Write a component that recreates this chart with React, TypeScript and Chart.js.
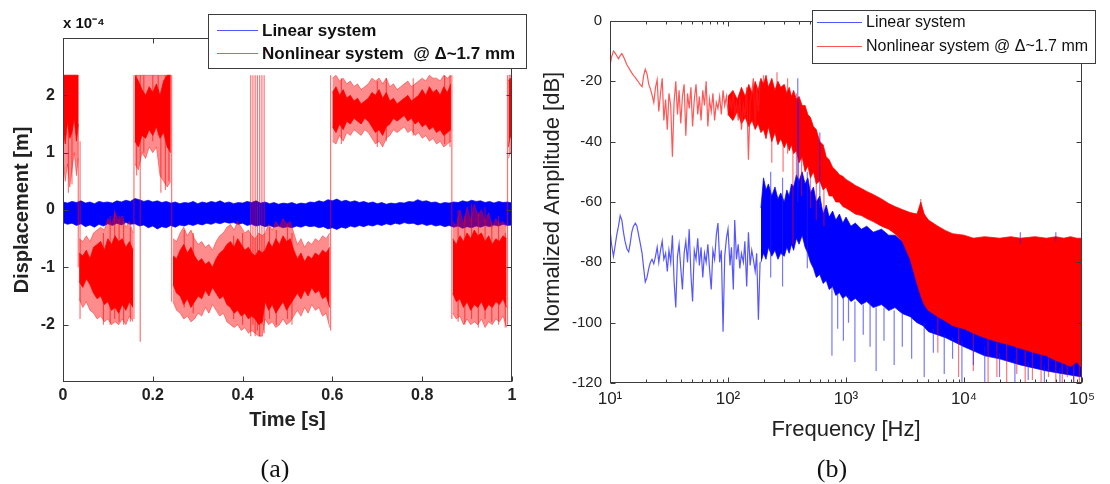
import React, { useEffect, useRef } from 'react';
import { Chart, registerables } from 'chart.js';

Chart.register(...registerables);

const SANS = '"Liberation Sans", Arial, Helvetica, sans-serif';
const SERIF = '"Liberation Serif", "Times New Roman", serif';

// ---------------- Panel (a): displacement vs time ----------------
const timeTicks = [0, 0.2, 0.4, 0.6, 0.8, 1];
const timeTickLabels = ['0', '0.2', '0.4', '0.6', '0.8', '1'];
const dispTicks = [-2, -1, 0, 1, 2];
const dispTickLabels = ['-2', '-1', '0', '1', '2'];

// linear system: dense band (upper / lower envelope), units 1e-4 m
const linearTime = [
  0, 0.01, 0.02, 0.03, 0.04, 0.05, 0.06, 0.07, 0.08, 0.09,
  0.1, 0.11, 0.12, 0.13, 0.14, 0.15, 0.16, 0.17, 0.18, 0.19,
  0.2, 0.21, 0.22, 0.23, 0.24, 0.25, 0.26, 0.27, 0.28, 0.29,
  0.3, 0.31, 0.32, 0.33, 0.34, 0.35, 0.36, 0.37, 0.38, 0.39,
  0.4, 0.41, 0.42, 0.43, 0.44, 0.45, 0.46, 0.47, 0.48, 0.49,
  0.5, 0.51, 0.52, 0.53, 0.54, 0.55, 0.56, 0.57, 0.58, 0.59,
  0.6, 0.61, 0.62, 0.63, 0.64, 0.65, 0.66, 0.67, 0.68, 0.69,
  0.7, 0.71, 0.72, 0.73, 0.74, 0.75, 0.76, 0.77, 0.78, 0.79,
  0.8, 0.81, 0.82, 0.83, 0.84, 0.85, 0.86, 0.87, 0.88, 0.89,
  0.9, 0.91, 0.92, 0.93, 0.94, 0.95, 0.96, 0.97, 0.98, 0.99,
  1,
];
const linearHi = [
  0.14, 0.12, 0.15, 0.13, 0.16, 0.12, 0.14, 0.11, 0.15, 0.13,
  0.14, 0.12, 0.16, 0.14, 0.17, 0.15, 0.2, 0.18, 0.15, 0.17,
  0.14, 0.16, 0.13, 0.15, 0.12, 0.14, 0.11, 0.13, 0.12, 0.15,
  0.11, 0.14, 0.12, 0.15, 0.13, 0.16, 0.12, 0.14, 0.11, 0.13,
  0.12, 0.15, 0.13, 0.16, 0.12, 0.14, 0.11, 0.13, 0.1, 0.12,
  0.11, 0.13, 0.1, 0.12, 0.11, 0.14, 0.13, 0.16, 0.14, 0.18,
  0.16, 0.19, 0.15, 0.17, 0.14, 0.16, 0.13, 0.15, 0.12, 0.14,
  0.11, 0.13, 0.1, 0.12, 0.11, 0.13, 0.12, 0.15, 0.14, 0.18,
  0.15, 0.16, 0.13, 0.14, 0.11, 0.13, 0.12, 0.14, 0.13, 0.16,
  0.14, 0.17, 0.15, 0.16, 0.13, 0.15, 0.12, 0.15, 0.13, 0.14,
  0.12,
];
const linearLo = [
  -0.22, -0.25, -0.23, -0.27, -0.24, -0.29, -0.26, -0.3, -0.25, -0.28,
  -0.24, -0.27, -0.23, -0.26, -0.22, -0.25, -0.24, -0.28, -0.26, -0.31,
  -0.28, -0.33, -0.29, -0.31, -0.27, -0.3, -0.26, -0.28, -0.25, -0.27,
  -0.24, -0.26, -0.23, -0.25, -0.22, -0.24, -0.21, -0.23, -0.22, -0.25,
  -0.23, -0.27, -0.25, -0.28, -0.26, -0.29, -0.27, -0.3, -0.28, -0.31,
  -0.29, -0.31, -0.28, -0.3, -0.27, -0.29, -0.28, -0.31, -0.29, -0.33,
  -0.31, -0.34, -0.3, -0.32, -0.28, -0.3, -0.27, -0.29, -0.26, -0.28,
  -0.25, -0.27, -0.24, -0.26, -0.23, -0.25, -0.22, -0.24, -0.23, -0.26,
  -0.24, -0.27, -0.25, -0.28, -0.26, -0.29, -0.27, -0.3, -0.28, -0.32,
  -0.29, -0.31, -0.28, -0.3, -0.27, -0.29, -0.26, -0.28, -0.25, -0.27,
  -0.26,
];

// nonlinear system: dense core band and lighter outer band (null separates segments)
const nonlinTime = [
  0, 0.005, 0.01, 0.015, 0.02, 0.025, 0.03, 0.034, null,
  0.036, 0.044, 0.052, 0.06, 0.068, 0.076, 0.084, 0.092, 0.1, 0.108, 0.116, 0.124, 0.132, 0.14, 0.148, 0.156, null,
  0.16, 0.168, 0.176, 0.184, 0.192, 0.2, 0.208, 0.216, 0.224, 0.232, 0.24, null,
  0.245, 0.253, 0.261, 0.269, 0.277, 0.285, 0.293, 0.301, 0.309, 0.317, 0.325, 0.333, 0.341, 0.349, 0.357,
  0.365, 0.373, 0.381, 0.389, 0.397, 0.405, 0.413, 0.42, 0.428, 0.436, 0.444, 0.45, 0.458, 0.466, 0.474,
  0.482, 0.49, 0.498, 0.506, 0.514, 0.522, 0.53, 0.538, 0.546, 0.554, 0.562, 0.57, 0.578, 0.586, 0.594, null,
  0.6, 0.608, 0.616, 0.624, 0.632, 0.64, 0.648, 0.656, 0.664, 0.672, 0.68, 0.688, 0.696, 0.704, 0.712, 0.72, 0.728,
  0.736, 0.744, 0.752, 0.76, 0.768, 0.776, 0.784, 0.792, 0.8, 0.808, 0.816, 0.824, 0.832, 0.84, 0.848, 0.856, 0.864, null,
  0.868, 0.876, 0.884, 0.892, 0.9, 0.908, 0.916, 0.924, 0.932, 0.94, 0.948, 0.956, 0.964, 0.972, 0.98, 0.988, null,
  0.992, 0.996, 1,
];
const nonlinHi = [
  2.35, 2.35, 2.35, 2.35, 2.35, 2.35, 2.35, 2.35, null,
  -0.75, -0.8, -0.7, -0.85, -0.65, -0.6, -0.55, -0.7, -0.5, -0.6, -0.45, -0.55, -0.5, -0.65, -0.55, -0.7, null,
  2.35, 2.25, 2.1, 2.0, 2.15, 2.05, 2.2, 2.0, 2.25, 2.35, 2.35, null,
  -0.8, -0.85, -0.7, -0.6, -0.75, -0.65, -0.8, -0.9, -0.85, -0.95, -0.9, -1.0, -0.85, -0.75, -0.7,
  -0.6, -0.55, -0.65, -0.5, -0.6, -0.7, -0.65, -0.75, -0.8, -0.7, -0.75, -0.7, -0.55, -0.65, -0.5,
  -0.6, -0.45, -0.55, -0.5, -0.7, -0.85, -0.75, -0.9, -0.8, -0.85, -0.75, -0.8, -0.7, -0.75, -0.65, null,
  2.05, 2.15, 2.0, 2.1, 1.95, 2.0, 1.9, 1.95, 1.85, 1.9, 1.95, 2.05, 2.0, 2.1, 1.95, 2.05, 1.9,
  1.95, 1.85, 1.9, 1.95, 2.0, 1.9, 1.95, 2.0, 2.1, 2.0, 2.15, 2.05, 2.1, 2.0, 2.15, 2.05, 2.2, null,
  -0.5, -0.6, -0.45, -0.55, -0.4, -0.5, -0.35, -0.45, -0.4, -0.55, -0.45, -0.6, -0.5, -0.55, -0.45, -0.5, null,
  2.25, 2.3, 2.2,
];
const nonlinLo = [
  1.45, 1.15, 1.55, 1.25, 1.35, 1.6, 1.2, 1.5, null,
  -1.25, -1.35, -1.2, -1.3, -1.45, -1.55, -1.5, -1.65, -1.6, -1.75, -1.7, -1.8, -1.65, -1.75, -1.6, -1.7, null,
  1.2, 1.1, 1.3, 1.25, 1.4, 1.3, 1.45, 1.25, 1.35, 1.1, 1.0, null,
  -1.3, -1.45, -1.5, -1.65, -1.55, -1.7, -1.6, -1.5, -1.55, -1.4, -1.5, -1.35, -1.45, -1.55, -1.5,
  -1.65, -1.7, -1.8, -1.75, -1.85, -1.8, -1.9, -1.85, -1.9, -2.0, -1.95, -1.6, -1.75, -1.65, -1.8,
  -1.7, -1.6, -1.75, -1.65, -1.55, -1.45, -1.55, -1.4, -1.5, -1.35, -1.45, -1.4, -1.55, -1.5, -1.7, null,
  1.45, 1.35, 1.5, 1.4, 1.55, 1.5, 1.6, 1.55, 1.5, 1.6, 1.55, 1.45, 1.35, 1.4, 1.3, 1.45, 1.5,
  1.6, 1.55, 1.6, 1.65, 1.55, 1.6, 1.5, 1.55, 1.45, 1.5, 1.4, 1.45, 1.35, 1.4, 1.3, 1.35, 1.4, null,
  -1.45, -1.6, -1.55, -1.7, -1.6, -1.75, -1.65, -1.7, -1.6, -1.75, -1.65, -1.7, -1.6, -1.65, -1.55, -1.7, null,
  1.1, 1.3, 1.2,
];
const nonlinOuterHi = [
  2.35, 2.35, 2.35, 2.35, 2.35, 2.35, 2.35, 2.35, null,
  -0.5, -0.55, -0.45, -0.55, -0.4, -0.35, -0.3, -0.35, -0.15, -0.25, -0.05, -0.2, -0.1, -0.3, -0.2, -0.4, null,
  2.35, 2.35, 2.35, 2.35, 2.35, 2.35, 2.35, 2.35, 2.35, 2.35, 2.35, null,
  -0.5, -0.55, -0.4, -0.3, -0.45, -0.35, -0.5, -0.6, -0.55, -0.65, -0.6, -0.7, -0.55, -0.45, -0.4,
  -0.3, -0.25, -0.35, -0.2, -0.3, -0.4, -0.35, -0.45, -0.5, -0.4, -0.45, -0.4, -0.25, -0.35, -0.2,
  -0.3, -0.15, -0.25, -0.2, -0.4, -0.6, -0.5, -0.65, -0.55, -0.6, -0.5, -0.55, -0.45, -0.5, -0.4, null,
  2.3, 2.35, 2.25, 2.3, 2.2, 2.25, 2.15, 2.2, 2.1, 2.15, 2.2, 2.3, 2.25, 2.3, 2.2, 2.3, 2.15,
  2.2, 2.1, 2.15, 2.2, 2.25, 2.15, 2.2, 2.25, 2.3, 2.25, 2.35, 2.3, 2.3, 2.25, 2.35, 2.3, 2.35, null,
  -0.2, -0.3, 0.0, -0.25, 0.05, -0.2, 0.1, -0.1, 0.0, -0.2, -0.05, -0.3, -0.15, -0.25, -0.2, -0.3, null,
  2.35, 2.35, 2.35,
];
const nonlinOuterLo = [
  0.9, 0.5, 0.8, 0.4, 0.7, 1.0, 0.6, 0.9, null,
  -1.55, -1.7, -1.6, -1.75, -1.8, -1.9, -1.85, -1.95, -1.9, -2.0, -1.95, -2.0, -1.9, -2.0, -1.85, -1.95, null,
  0.8, 0.7, 1.0, 0.9, 1.1, 1.0, 1.1, 0.6, 0.5, 0.4, 0.5, null,
  -1.6, -1.75, -1.8, -1.9, -1.85, -1.95, -1.9, -1.8, -1.85, -1.7, -1.8, -1.65, -1.75, -1.85, -1.8,
  -1.95, -2.0, -2.05, -2.0, -2.1, -2.05, -2.15, -2.1, -2.15, -2.2, -2.2, -1.9, -2.0, -1.95, -2.05,
  -2.0, -1.9, -2.0, -1.95, -1.85, -1.75, -1.85, -1.7, -1.8, -1.65, -1.75, -1.7, -1.85, -1.8, -2.05, null,
  1.2, 1.15, 1.3, 1.2, 1.35, 1.3, 1.4, 1.35, 1.3, 1.4, 1.35, 1.25, 1.15, 1.2, 1.1, 1.25, 1.3,
  1.4, 1.35, 1.4, 1.45, 1.35, 1.4, 1.3, 1.35, 1.25, 1.3, 1.2, 1.25, 1.15, 1.2, 1.1, 1.15, 1.2, null,
  -1.8, -1.9, -1.85, -2.0, -1.9, -2.0, -1.95, -2.0, -1.9, -2.05, -1.95, -2.0, -1.9, -1.95, -1.85, -2.05, null,
  0.9, 1.0, 1.0,
];

// nonlinear system: isolated light excursions (vertical strokes)
const nonlinSpikeTime = [
  0, 0.012, 0.02, 0.034, 0.038, 0.09, 0.105, 0.115, 0.125, 0.135, 0.15, 0.158, 0.164, 0.172, 0.18,
  0.2, 0.212, 0.218, 0.228, 0.236, 0.242, 0.27, 0.29, 0.38, 0.4, 0.418, 0.423, 0.428, 0.433, 0.438,
  0.443, 0.448, 0.46, 0.475, 0.5, 0.51, 0.596, 0.62, 0.7, 0.72, 0.78, 0.85, 0.862, 0.866, 0.88,
  0.895, 0.91, 0.925, 0.94, 0.955, 0.97, 0.985, 0.99,
];
const nonlinSpikeTop = [
  2.35, 1.5, 1.6, 2.35, 1.2, -0.4, -0.1, 0.0, -0.1, -0.2, -0.3, 2.35, 2.35, 2.35, 2.35,
  2.35, 2.35, 1.5, 2.35, 2.35, 2.35, -0.35, -0.4, -0.45, -0.4, 2.35, 2.35, 2.35, 2.35, 2.35,
  2.35, 2.35, -0.3, -0.35, -0.25, -0.4, 2.35, 2.3, 2.25, 2.3, 2.3, 2.35, 2.35, 2.35, 0.0,
  -0.1, 0.1, -0.05, 0.05, -0.2, -0.1, -0.4, 2.35,
];
const nonlinSpikeBottom = [
  -2.3, 0.3, 0.45, -1.0, -1.9, -2.0, -2.0, -1.9, -1.95, -2.0, -1.95, -1.9, 0.6, -2.3, 1.0,
  1.2, 1.3, 0.3, 0.35, 0.5, -1.6, -1.7, -1.8, -1.9, -2.0, -2.2, -2.0, -2.2, -2.1, -2.2,
  -2.0, -2.15, -1.9, -2.0, -1.9, -2.0, -2.1, 1.15, 1.1, 1.2, 1.3, 1.15, 1.1, -1.9, -1.95,
  -2.0, -1.9, -2.05, -1.9, -1.95, -2.0, -2.05, -2.0,
];

// ---------------- Panel (b): spectrum ----------------
const freqTicks = [10, 100, 1000, 10000, 100000];
const freqTickLabels = ['10\u00b9', '10\u00b2', '10\u00b3', '10\u2074', '10\u2075'];
const minorMultipliers = [2, 3, 4, 5, 6, 7, 8, 9];
const dbTicks = [0, -20, -40, -60, -80, -100, -120];
const dbTickLabels = ['0', '-20', '-40', '-60', '-80', '-100', '-120'];

// low-frequency part, drawn as traces
const lowFreq = [
  10, 10.3, 10.7, 11.0, 11.4, 11.8, 12.2, 12.6, 13.0, 13.4, 13.9, 14.4, 14.8,
  15.3, 15.8, 16.4, 16.9, 17.5, 18.1, 18.7, 19.3, 19.9,
  20.6, 21.3, 22.0, 22.7, 23.5, 24.3, 25.1, 25.9, 26.8, 27.7, 28.6, 29.6,
  30.6, 31.6, 32.7, 33.8, 34.9, 36.1, 37.3, 38.5, 39.8,
  41.1, 42.5, 43.9, 45.4, 46.9, 48.5,
  50.1, 51.8, 53.6, 55.4, 57.2, 59.1,
  61.1, 63.2, 65.3, 67.5, 69.7,
  72.1, 74.5, 77.0, 79.6,
  82.2, 85.0, 87.8, 90.8, 93.8, 97.0,
  100, 104, 107, 111, 114, 118, 122, 126, 130, 135, 139, 144, 149, 154, 159, 164, 170, 175, 181, 187,
];
const nonlinLowDb = [
  -15, -12, -10, -10.5, -11.5, -12.5, -11.5, -10.8, -11.8, -13, -14.5, -15.5, -16.3,
  -17.2, -18, -18.8, -19.5, -20.3, -21.2, -21.8, -18, -16,
  -17.5, -21, -22.5, -24.5, -27, -22, -19.5, -30, -24, -19, -33, -26,
  -36, -24, -28, -45, -27, -20, -31, -23, -34,
  -25, -21, -38, -24, -29, -22,
  -35, -26, -21, -31, -25, -33,
  -23, -28, -20, -35, -26,
  -30, -24, -33, -27,
  -29, -25, -31, -23, -28, -25,
  -30, -26, -29, -24, -31, -27, -33, -25, -36, -28, -32, -22, -46, -27, -24, -19, -35, -22, -30, -20,
];
const linearLowDb = [
  -69, -74, -78, -75, -71, -68, -64.5, -66, -70, -73, -75.5, -76.5, -74,
  -70, -68, -67, -68, -71, -74, -77, -82, -86.5,
  -85, -82, -80, -79, -80.5, -78, -75, -80, -76, -73, -79, -77,
  -83, -76, -80, -71, -86, -95, -78, -74, -82,
  -89, -77, -73, -80, -69, -84,
  -93, -76, -79, -72, -81, -75,
  -85, -77, -80, -74, -82,
  -89, -76, -79, -71,
  -67, -80, -76, -103, -78, -72,
  -69, -81, -75, -89, -66, -79, -74, -82, -77, -80, -73, -88, -70, -81, -76, -79, -83, -77, -99, -80,
];

// dense part, drawn as envelope bands
const nonlinBandFreq = [
  100, 110, 120, 130, 140, 150, 160, 170, 180, 190,
  200, 210, 220, 235, 250, 265, 280, 300, 315, 330,
  345, 360, 380, 400, 425, 450, 475, 500, 530, 560,
  600, 640, 680, 720, 770, 820, 880, 940, 1000, 1100,
  1200, 1350, 1500, 1700, 2000, 2300, 2600, 3000, 3500, 4000,
  4300, 4600, 5000, 6000, 7000, 8000, 10000, 12000, 15000, 20000,
  25000, 30000, 40000, 50000, 60000, 70000, 80000, 90000, 100000,
];
const nonlinBandHi = [
  -25, -23, -26, -22, -25, -21, -24, -20, -23, -19,
  -21, -18, -22, -19, -23, -20, -22, -21, -24, -22,
  -25, -23, -26, -25, -28, -28, -31, -32, -35, -36,
  -40, -41, -45, -46, -48.5, -49.5, -51, -51.5, -52.5, -53.5,
  -54.5, -55.5, -56.5, -57.5, -59, -60.5, -61.5, -62.5, -63.5, -64,
  -60, -64, -66, -68, -69.5, -70.5, -71, -72, -71.5, -72,
  -71.5, -72, -71.5, -72, -71.5, -72, -71.5, -72, -72,
];
const nonlinBandLo = [
  -31, -33, -30, -34, -32, -35, -33, -36, -34, -37,
  -36, -39, -35, -40, -37, -41, -39, -42, -40, -43,
  -41, -44, -43, -47, -45, -50, -48, -52, -50, -54,
  -53, -56, -55, -58, -58, -60, -60, -61.5, -62, -63,
  -64, -64.5, -65.5, -66.5, -68, -69, -70.5, -73, -79, -87,
  -91, -94, -96, -98, -99.5, -101, -102, -103.5, -105, -106.5,
  -107.5, -108.5, -110, -111, -112.5, -113.5, -114.5, -113, -115,
];
const linearBandFreq = [
  190, 200, 210, 220, 235, 250, 265, 280, 300, 315,
  330, 345, 360, 380, 400, 425, 450, 475, 500, 530,
  560, 600, 640, 680, 720, 770, 820, 880, 940, 1000,
  1100, 1200, 1350, 1500, 1700, 2000, 2300, 2600, 3000, 3500,
  4000, 4500, 5000, 7000, 10000, 15000, 20000, 30000, 50000, 70000,
  100000,
];
const linearBandHi = [
  -62, -52, -56, -54, -58, -55, -59, -57, -60, -56,
  -58, -54, -55, -51, -53, -50, -54, -52, -57, -55,
  -60, -58, -64, -61, -65, -63, -66, -64, -67, -65,
  -68, -67, -69, -68, -70, -69, -71, -71, -73, -75,
  -80, -90, -96, -98, -100, -103, -104, -106, -108, -110,
  -110,
];
const linearBandLo = [
  -80, -77, -79, -75, -78, -76, -79, -77, -78, -75,
  -77, -74, -76, -72, -74, -71, -75, -77, -80, -82,
  -85, -84, -87, -86, -89, -88, -91, -90, -92, -91,
  -93, -92, -94, -93, -95, -94, -96, -95, -97, -98,
  -100, -101, -103, -105, -108, -111, -112, -114, -116, -117,
  -118,
];

// isolated spectral lines / dips
const nonlinSpikeFreq = [
  200, 235, 260, 293, 320, 355, 380, 420, 500, 560, 650, 4300,
  6000, 9000, 12000, 16000, 19000, 23000, 28000, 33000, 38000, 45000, 52000, 60000, 68000, 75000, 85000, 95000,
];
const nonlinSpikeTopDb = [
  -18, -25, -17, -22, -19, -40, -24, -30, -36, -40, -45, -59,
  -95, -100, -102, -104, -103, -105, -106, -106, -108, -108, -110, -111, -112, -112, -113, -112,
];
const nonlinSpikeBottomDb = [
  -36, -47, -40, -50, -44, -74, -52, -58, -62, -66, -68, -72,
  -110, -118, -116, -120, -118, -120, -117, -120, -119, -120, -118, -120, -120, -118, -120, -120,
];
const linearSpikeFreq = [
  390, 396, 600, 230, 290, 470, 760, 850, 950, 1050, 1190, 1400, 1600, 1800, 2100, 2560, 3000,
  3600, 4600, 5500, 6800, 8000, 9600, 12000, 15000, 20000, 27000, 35000, 48000, 65000, 85000,
  30000, 60000,
];
const linearSpikeTopDb = [
  -19, -27, -37, -50, -52, -50, -88, -90, -92, -91, -93, -94, -93, -95, -95, -96, -97,
  -98, -100, -102, -104, -105, -106, -107, -108, -110, -112, -113, -114, -115, -116,
  -70, -70,
];
const linearSpikeBottomDb = [
  -60, -55, -62, -85, -88, -82, -111, -102, -106, -100, -113, -104, -108, -116, -106, -114, -108,
  -112, -118, -110, -117, -112, -120, -114, -120, -118, -120, -119, -120, -120, -120,
  -74, -73,
];

// ---------------- helpers ----------------
type Pt = { x: number; y: number | null };

function bandDatasets(xs: (number | null)[], hi: (number | null)[], lo: (number | null)[], fillColor: string, edgeColor: string, order: number) {
  const segs: { hi: Pt[]; lo: Pt[] }[] = [];
  let cur: { hi: Pt[]; lo: Pt[] } | null = null;
  xs.forEach((x, i) => {
    if (x === null) { cur = null; return; }
    if (!cur) { cur = { hi: [], lo: [] }; segs.push(cur); }
    cur.hi.push({ x, y: hi[i] as number });
    cur.lo.push({ x, y: lo[i] as number });
  });
  const out: any[] = [];
  segs.forEach((s) => {
    out.push({ data: s.hi, borderColor: edgeColor, borderWidth: 1, fill: false, order, pointRadius: 0 });
    out.push({ data: s.lo, borderColor: edgeColor, borderWidth: 1, fill: '-1', backgroundColor: fillColor, order, pointRadius: 0 });
  });
  return out;
}

function spikeData(xs: number[], tops: number[], bots: number[]): Pt[] {
  const pts: Pt[] = [];
  xs.forEach((x, i) => { pts.push({ x, y: tops[i] }, { x, y: bots[i] }, { x, y: null }); });
  return pts;
}

function traceData(xs: number[], ys: number[]): Pt[] {
  return xs.map((x, i) => ({ x, y: ys[i] }));
}

type Decor = {
  xMajor: number[];
  yMajor: number[];
  xMinor?: number[];
  legend: { box: [number, number, number, number]; lineX: [number, number]; textX: number; font: string; rows: { label: string; color: string; y: number }[] };
  texts: { text: string; x: number; y: number; font: string; align: CanvasTextAlign }[];
};

function decorPlugin(d: Decor) {
  return {
    id: 'decor',
    afterDatasetsDraw(chart: any) {
      const { ctx, chartArea: a, scales } = chart;
      const xs = scales.x;
      const ys = scales.y;
      const L = Math.round(a.left) + 0.5;
      const R = Math.round(a.right) - 0.5;
      const T = Math.round(a.top) + 0.5;
      const B = Math.round(a.bottom) - 0.5;
      ctx.save();
      ctx.strokeStyle = '#3c3c3c';
      ctx.lineWidth = 1;
      ctx.beginPath();
      const tick = (v: number, len: number) => {
        const p = Math.round(xs.getPixelForValue(v)) + 0.5;
        ctx.moveTo(p, B); ctx.lineTo(p, B - len);
        ctx.moveTo(p, T); ctx.lineTo(p, T + len);
      };
      d.xMajor.forEach((v) => tick(v, 5));
      (d.xMinor || []).forEach((v) => tick(v, 3));
      d.yMajor.forEach((v) => {
        const p = Math.round(ys.getPixelForValue(v)) + 0.5;
        ctx.moveTo(L, p); ctx.lineTo(L + 5, p);
        ctx.moveTo(R, p); ctx.lineTo(R - 5, p);
      });
      ctx.stroke();
      ctx.strokeRect(L, T, R - L, B - T);
      ctx.restore();
    },
    afterDraw(chart: any) {
      const { ctx } = chart;
      const lg = d.legend;
      ctx.save();
      ctx.fillStyle = '#ffffff';
      ctx.fillRect(lg.box[0], lg.box[1], lg.box[2], lg.box[3]);
      ctx.strokeStyle = '#3c3c3c';
      ctx.lineWidth = 1;
      ctx.strokeRect(lg.box[0] + 0.5, lg.box[1] + 0.5, lg.box[2], lg.box[3]);
      lg.rows.forEach((r) => {
        ctx.strokeStyle = r.color;
        ctx.lineWidth = 1.2;
        ctx.beginPath();
        ctx.moveTo(lg.lineX[0], r.y + 0.5);
        ctx.lineTo(lg.lineX[1], r.y + 0.5);
        ctx.stroke();
        ctx.fillStyle = '#111';
        ctx.font = lg.font;
        ctx.textAlign = 'left';
        ctx.textBaseline = 'middle';
        ctx.fillText(r.label, lg.textX, r.y + 1);
      });
      d.texts.forEach((t) => {
        ctx.fillStyle = '#111';
        ctx.font = t.font;
        ctx.textAlign = t.align;
        ctx.textBaseline = 'middle';
        ctx.fillText(t.text, t.x, t.y);
      });
      ctx.restore();
    },
  };
}

function ChartCanvas({ make, left, width, height }: { make: () => any; left: number; width: number; height: number }) {
  const ref = useRef<HTMLCanvasElement>(null);
  useEffect(() => {
    const chart = new Chart(ref.current as HTMLCanvasElement, make());
    return () => chart.destroy();
  }, []);
  return (
    <canvas
      ref={ref}
      width={width}
      height={height}
      style={{ position: 'absolute', left, top: 0, width, height, display: 'block' }}
    />
  );
}

const BLUE = '#0000ff';
const RED = '#ff0000';

function makeA() {
  const datasets: any[] = [
    ...bandDatasets(linearTime, linearHi, linearLo, BLUE, 'rgba(0,0,255,0.7)', 4),
    ...bandDatasets(nonlinTime, nonlinOuterHi, nonlinOuterLo, 'rgba(255,0,0,0.45)', 'rgba(255,0,0,0.4)', 3),
    ...bandDatasets(nonlinTime, nonlinHi, nonlinLo, RED, 'rgba(255,0,0,0.75)', 2),
    {
      data: spikeData(nonlinSpikeTime, nonlinSpikeTop, nonlinSpikeBottom),
      borderColor: 'rgba(255,0,0,0.55)',
      borderWidth: 1.2,
      fill: false,
      order: 1,
      pointRadius: 0,
    },
  ];
  const tickFont = { family: SANS, size: 16, weight: 'bold' as const };
  return {
    type: 'line',
    data: { datasets },
    options: {
      responsive: false,
      animation: false,
      events: [],
      layout: { padding: { left: 0, right: 18, top: 38, bottom: 0 } },
      elements: { point: { radius: 0 }, line: { tension: 0 } },
      plugins: { legend: { display: false }, tooltip: { enabled: false } },
      scales: {
        x: {
          type: 'linear',
          min: 0,
          max: 1,
          grid: { display: false, drawTicks: false },
          border: { display: false },
          afterBuildTicks: (s: any) => { s.ticks = timeTicks.map((v) => ({ value: v })); },
          afterFit: (s: any) => { s.height = 102; },
          ticks: {
            autoSkip: false,
            maxRotation: 0,
            padding: 4,
            color: '#222',
            font: tickFont,
            callback: (v: number) => timeTickLabels[timeTicks.indexOf(v)] ?? '',
          },
          title: { display: true, text: 'Time [s]', color: '#222', font: { family: SANS, size: 20, weight: 'bold' }, padding: { top: 0, bottom: 52 } },
        },
        y: {
          type: 'linear',
          min: -3,
          max: 3,
          grid: { display: false, drawTicks: false },
          border: { display: false },
          afterBuildTicks: (s: any) => { s.ticks = dispTicks.map((v) => ({ value: v })); },
          afterFit: (s: any) => { s.width = 63; },
          ticks: {
            autoSkip: false,
            padding: 8,
            color: '#222',
            font: tickFont,
            callback: (v: number) => dispTickLabels[dispTicks.indexOf(v)] ?? '',
          },
          title: { display: true, text: 'Displacement [m]', color: '#222', font: { family: SANS, size: 20, weight: 'bold' }, padding: { top: 10, bottom: 0 } },
        },
      },
    },
    plugins: [
      decorPlugin({
        xMajor: timeTicks,
        yMajor: dispTicks,
        legend: {
          box: [208, 14, 318, 54],
          lineX: [217, 258],
          textX: 262,
          font: `bold 17px ${SANS}`,
          rows: [
            { label: 'Linear system', color: 'rgba(40,40,255,0.8)', y: 30 },
            { label: 'Nonlinear system  @ \u0394~1.7 mm', color: 'rgba(255,40,40,0.8)', y: 53 },
          ],
        },
        texts: [
          { text: 'x 10\u207b\u2074', x: 63, y: 24, font: `bold 15px ${SANS}`, align: 'left' },
          { text: '(a)', x: 275, y: 470, font: `26px ${SERIF}`, align: 'center' },
        ],
      }),
    ],
  };
}

function makeB() {
  const minor: number[] = [];
  freqTicks.slice(0, -1).forEach((d) => minorMultipliers.forEach((m) => minor.push(d * m)));
  const datasets: any[] = [
    { data: traceData(lowFreq, linearLowDb), borderColor: 'rgba(30,30,255,0.75)', borderWidth: 1.2, fill: false, order: 5, pointRadius: 0 },
    ...bandDatasets(linearBandFreq, linearBandHi, linearBandLo, BLUE, 'rgba(0,0,255,0.7)', 5),
    { data: traceData(lowFreq, nonlinLowDb), borderColor: 'rgba(255,30,30,0.75)', borderWidth: 1.2, fill: false, order: 4, pointRadius: 0 },
    ...bandDatasets(nonlinBandFreq, nonlinBandHi, nonlinBandLo, RED, 'rgba(255,0,0,0.75)', 4),
    {
      data: spikeData(nonlinSpikeFreq, nonlinSpikeTopDb, nonlinSpikeBottomDb),
      borderColor: 'rgba(255,0,0,0.55)', borderWidth: 1.2, fill: false, order: 3, pointRadius: 0,
    },
    {
      data: spikeData(linearSpikeFreq, linearSpikeTopDb, linearSpikeBottomDb),
      borderColor: 'rgba(30,30,255,0.6)', borderWidth: 1.2, fill: false, order: 2, pointRadius: 0,
    },
  ];
  const tickFont = { family: SANS, size: 15 };
  return {
    type: 'line',
    data: { datasets },
    options: {
      responsive: false,
      animation: false,
      events: [],
      layout: { padding: { left: 0, right: 28, top: 21, bottom: 0 } },
      elements: { point: { radius: 0 }, line: { tension: 0 } },
      plugins: { legend: { display: false }, tooltip: { enabled: false } },
      scales: {
        x: {
          type: 'logarithmic',
          min: 10,
          max: 100000,
          grid: { display: false, drawTicks: false },
          border: { display: false },
          afterBuildTicks: (s: any) => { s.ticks = freqTicks.map((v) => ({ value: v, major: true })); },
          afterFit: (s: any) => { s.height = 101; },
          ticks: {
            autoSkip: false,
            maxRotation: 0,
            padding: 6,
            color: '#222',
            font: { family: SANS, size: 17 },
            callback: (v: number) => freqTickLabels[freqTicks.indexOf(v)] ?? '',
          },
          title: { display: true, text: 'Frequency [Hz]', color: '#222', font: { family: SANS, size: 22 }, padding: { top: 0, bottom: 41 } },
        },
        y: {
          type: 'linear',
          min: -120,
          max: 0,
          grid: { display: false, drawTicks: false },
          border: { display: false },
          afterBuildTicks: (s: any) => { s.ticks = dbTicks.map((v) => ({ value: v })); },
          afterFit: (s: any) => { s.width = 80; },
          ticks: {
            autoSkip: false,
            padding: 8,
            color: '#222',
            font: tickFont,
            callback: (v: number) => dbTickLabels[dbTicks.indexOf(v)] ?? '',
          },
          title: { display: true, text: 'Normalized Amplitude [dB]', color: '#222', font: { family: SANS, size: 22 }, padding: { top: 10, bottom: 0 } },
        },
      },
    },
    plugins: [
      decorPlugin({
        xMajor: freqTicks,
        xMinor: minor,
        yMajor: dbTicks,
        legend: {
          box: [282, 10, 283, 53],
          lineX: [287, 332],
          textX: 336,
          font: `16px ${SANS}`,
          rows: [
            { label: 'Linear system', color: 'rgba(40,40,255,0.8)', y: 22 },
            { label: 'Nonlinear system @ \u0394~1.7 mm', color: 'rgba(255,40,40,0.8)', y: 46 },
          ],
        },
        texts: [
          { text: '(b)', x: 302, y: 470, font: `26px ${SERIF}`, align: 'center' },
        ],
      }),
    ],
  };
}

export default function App() {
  return (
    <div style={{ position: 'fixed', left: 0, top: 0, width: 1110, height: 484, background: '#fff', overflow: 'hidden' }}>
      <ChartCanvas make={makeA} left={0} width={530} height={484} />
      <ChartCanvas make={makeB} left={530} width={580} height={484} />
    </div>
  );
}
